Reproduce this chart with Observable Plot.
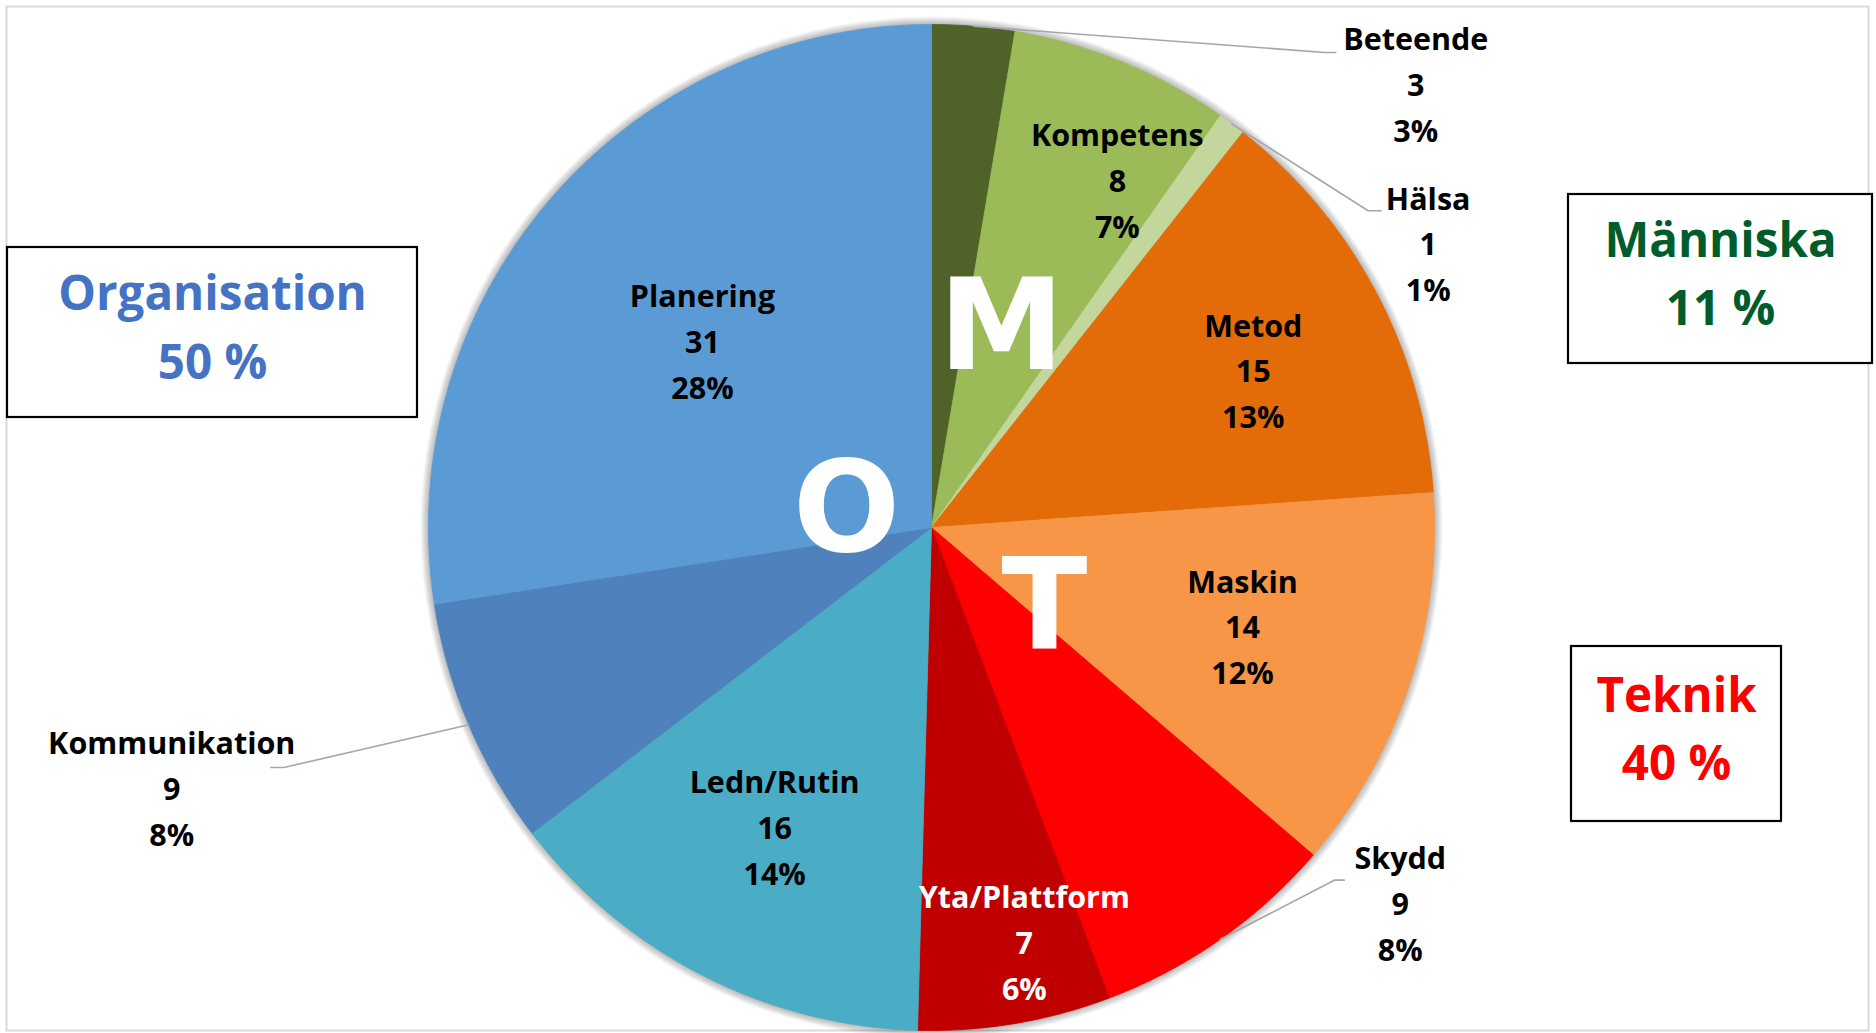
<!DOCTYPE html>
<html>
<head>
<meta charset="utf-8">
<script src="https://cdn.jsdelivr.net/npm/d3@7"></script>
<script src="https://cdn.jsdelivr.net/npm/@observablehq/plot@0.6"></script>
<style>
  html, body { margin: 0; padding: 0; background: #ffffff; }
  #chart svg { display: block; }
</style>
</head>
<body>
<div id="chart"></div>
<script>
// ---------- DATA ----------
const categories = ["Beteende", "Kompetens", "Hälsa", "Metod", "Maskin", "Skydd", "Yta/Plattform", "Ledn/Rutin", "Kommunikation", "Planering"];
const counts = [3, 8, 1, 15, 14, 9, 7, 16, 9, 31];
const percentLabels = ["3%", "7%", "1%", "13%", "12%", "8%", "6%", "14%", "8%", "28%"];
const groupNames = ["Organisation", "Människa", "Teknik"];
const groupPercentLabels = ["50 %", "11 %", "40 %"];
const groupLetters = ["O", "M", "T"];

// ---------- STYLES ----------
const sliceColors = ["#4f6228", "#9bbb59", "#c3d69b", "#e36c09", "#f79646", "#ff0000", "#c00000", "#4bacc6", "#4f81bd", "#5b9bd5"];
const labelColors = ["#000", "#000", "#000", "#000", "#000", "#000", "#fff", "#000", "#000", "#000"];
const groupColors = ["#4472c4", "#005c2a", "#ff0000"];

// ---------- LAYOUT ----------
const W = 1876, H = 1033;
const CX = 931, CY = 527, R = 503;
const rad = Math.PI / 180;
const polar = (aDeg, r) => [CX + r * Math.sin(aDeg * rad), CY - r * Math.cos(aDeg * rad)];
// label placement relative to slice mid-angle: angle shift (deg), radius (px)
const labelShift = [42.9, 6.0, 23.8, 2.2, -0.3, -16.1, -3.0, 0.4, 4.0, -1.8];
const labelRadius = [655, 392, 571, 357, 327, 602, 427, 340, 804, 294];
const labelLift = -5;
// leader lines for outside labels: end offset from label anchor, elbow length
const leaders = [
  {i: 0, dx: -80, dy: -34, elbow: -11},
  {i: 2, dx: -47, dy: -35, elbow: -13},
  {i: 5, dx: -56, dy: -25, elbow: -10},
  {i: 8, dx: 99, dy: -23, elbow: 13}
];
// category boxes
const boxes = [
  {x1: 7, x2: 417, y1: 247, y2: 417},
  {x1: 1568, x2: 1872, y1: 194, y2: 363},
  {x1: 1571, x2: 1781, y1: 646, y2: 821}
];
// big letters (polar: angle, radius)
const letterPolar = [[281.3, 86.7], [19.4, 210.5], [125.5, 138.7]];

// ---------- GEOMETRY FROM DATA ----------
const arcs = d3.pie().sort(null).startAngle(0).endAngle(2 * Math.PI)(counts);
const slices = arcs.map((a, i) => ({
  i, name: categories[i],
  a0: a.startAngle / rad, a1: a.endAngle / rad,
  mid: (a.startAngle + a.endAngle) / 2 / rad
}));

function wedge(s) {
  const n = Math.max(2, Math.ceil((s.a1 - s.a0) / 0.5));
  const pts = [[CX, CY]];
  for (let j = 0; j <= n; j++) pts.push(polar(s.a0 + (s.a1 - s.a0) * j / n, R));
  pts.push([CX, CY]);
  return pts;
}

const labels = slices.map(s => {
  const [x, y] = polar(s.mid + labelShift[s.i], labelRadius[s.i]);
  return {x, y: y + labelLift, text: `${categories[s.i]}\n${counts[s.i]}\n${percentLabels[s.i]}`, color: labelColors[s.i], ax: x, ay: y};
});

const leaderPts = [];
leaders.forEach(l => {
  const s = slices[l.i];
  const lab = labels[l.i];
  const start = polar(s.mid, R);
  const end = [lab.ax + l.dx, lab.ay + l.dy];
  leaderPts.push({k: l.i, p: start});
  leaderPts.push({k: l.i, p: [end[0] + l.elbow, end[1]]});
  leaderPts.push({k: l.i, p: end});
});

const boxData = boxes.map((b, i) => ({...b, cx: (b.x1 + b.x2) / 2, cy: (b.y1 + b.y2) / 2 - 10,
  text: `${groupNames[i]}\n${groupPercentLabels[i]}`, color: groupColors[i]}));

const letterData = groupLetters.map((t, i) => {
  const [x, y] = polar(letterPolar[i][0], letterPolar[i][1]);
  return {x, y, t};
});

// soft shadow rings behind the pie
const shadowRings = d3.range(1, 9).map(k => ({x: CX, y: CY, r: R + k}));

// ---------- PLOT ----------
const chart = Plot.plot({
  width: W, height: H,
  margin: 0,
  x: {domain: [0, W], range: [0, W], axis: null},
  y: {domain: [0, H], range: [0, H], axis: null},
  style: {background: "#ffffff"},
  marks: [
    Plot.frame({stroke: "#d9d9d9", strokeWidth: 2, insetLeft: 6, insetTop: 6, insetRight: 8, insetBottom: 3}),
    Plot.dot(shadowRings, {x: "x", y: "y", r: "r", fill: "#000000", fillOpacity: 0.035, stroke: "none"}),
    ...slices.map(s => Plot.line(wedge(s), {
      x: d => d[0], y: d => d[1],
      fill: sliceColors[s.i], stroke: sliceColors[s.i], strokeWidth: 0.8,
      curve: "linear"
    })),
    Plot.line(leaderPts, {
      x: d => d.p[0], y: d => d.p[1], z: "k",
      stroke: "#a6a6a6", strokeWidth: 1.6, curve: "linear"
    }),
    Plot.text(letterData, {
      x: "x", y: "y", text: "t", fill: "#ffffff",
      fontSize: 126, fontWeight: "bold", fontFamily: "DejaVu Sans"
    }),
    Plot.text(labels, {
      x: "x", y: "y", text: "text", fill: d => d.color,
      fontSize: 30.5, fontWeight: "bold", fontFamily: "Open Sans",
      lineHeight: 1.5, lineAnchor: "middle"
    }),
    Plot.rect(boxData, {
      x1: "x1", x2: "x2", y1: "y1", y2: "y2",
      fill: "#ffffff", stroke: "#000000", strokeWidth: 2.2
    }),
    Plot.text(boxData, {
      x: "cx", y: "cy", text: "text", fill: d => d.color,
      fontSize: 47.5, fontWeight: "bold", fontFamily: "Open Sans",
      lineHeight: 1.45, lineAnchor: "middle"
    })
  ],
  r: {type: "identity"},
  color: {type: "identity"}
});

document.getElementById("chart").appendChild(chart);
</script>
</body>
</html>
